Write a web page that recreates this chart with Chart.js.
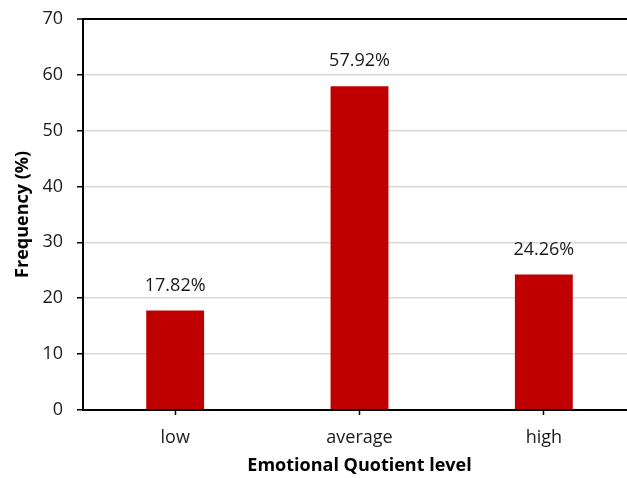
<!DOCTYPE html>
<html>
<head>
<meta charset="utf-8">
<script src="https://cdn.jsdelivr.net/npm/chart.js@4/dist/chart.umd.min.js"></script>
<style>
  html, body { margin: 0; padding: 0; background: #fff; overflow: hidden; width: 627px; height: 478px; position: relative; }
  #wrap { position: absolute; left: 0; top: -6px; width: 660px; height: 484px; }
</style>
</head>
<body>
<div id="wrap"><canvas id="c" width="660" height="484"></canvas></div>
<script>
// Emotional Quotient level distribution
const categories = ['low', 'average', 'high'];
const frequency = [17.82, 57.92, 24.26];
const yTicks = [0, 10, 20, 30, 40, 50, 60, 70];

const FONT = '"Open Sans", "Liberation Sans", sans-serif';
const FONT_SIZE = 18;
const BAR_RED = '#C00000';

// Percentage labels written above each bar
const valueLabels = {
  id: 'valueLabels',
  afterDatasetsDraw(chart) {
    const ctx = chart.ctx;
    const meta = chart.getDatasetMeta(0);
    ctx.save();
    ctx.font = FONT_SIZE + 'px ' + FONT;
    ctx.fillStyle = '#1a1a1a';
    ctx.textAlign = 'center';
    ctx.textBaseline = 'middle';
    meta.data.forEach((bar, i) => {
      const v = chart.data.datasets[0].data[i];
      ctx.fillText(v.toFixed(2) + '%', bar.x, bar.y - 25);
    });
    ctx.restore();
  }
};

new Chart(document.getElementById('c'), {
  type: 'bar',
  data: {
    labels: categories,
    datasets: [{
      data: frequency,
      backgroundColor: BAR_RED,
      borderWidth: 0,
      barPercentage: 0.314,
      categoryPercentage: 1
    }]
  },
  options: {
    responsive: false,
    animation: false,
    devicePixelRatio: 1,
    layout: { padding: { top: 14, right: 24, left: 0, bottom: 0 } },
    plugins: { legend: { display: false }, tooltip: { enabled: false } },
    scales: {
      x: {
        offset: true,
        grid: {
          offset: false,
          drawOnChartArea: false,
          drawTicks: true,
          tickLength: 5,
          tickColor: '#000',
          tickWidth: 1.5
        },
        border: { display: true, color: '#000', width: 2 },
        ticks: { color: '#1a1a1a', font: { family: FONT, size: FONT_SIZE }, padding: 12 },
        title: {
          display: true,
          text: 'Emotional Quotient level',
          color: '#000',
          font: { family: FONT, size: FONT_SIZE, weight: 'bold' },
          padding: { top: 4, bottom: 1 }
        },
        afterFit(scale) { scale.height = 68; }
      },
      y: {
        min: 0,
        max: 70,
        afterBuildTicks(scale) { scale.ticks = yTicks.map(v => ({ value: v })); },
        grid: {
          color: ctx => (ctx.tick && ctx.tick.value === 70 ? '#000' : '#d9d9d9'),
          lineWidth: ctx => (ctx.tick && ctx.tick.value === 70 ? 2 : 1.5),
          tickLength: 6,
          tickColor: '#000',
          tickWidth: 1.5
        },
        border: { display: true, color: '#000', width: 2 },
        ticks: { color: '#1a1a1a', font: { family: FONT, size: FONT_SIZE }, padding: 14 },
        title: {
          display: true,
          text: 'Frequency (%)',
          color: '#000',
          font: { family: FONT, size: FONT_SIZE, weight: 'bold' },
          padding: { top: 12, bottom: 0 }
        },
        afterFit(scale) { scale.width = 83; }
      }
    }
  },
  plugins: [valueLabels]
});
</script>
</body>
</html>
